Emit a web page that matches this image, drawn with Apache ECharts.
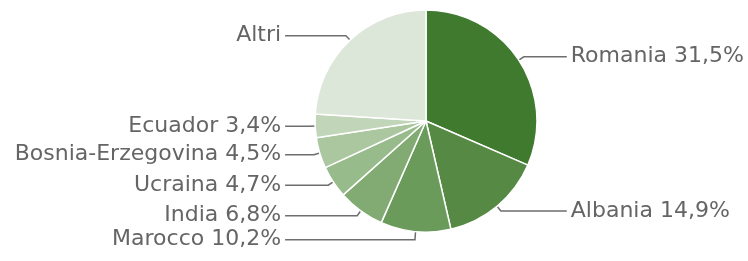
<!DOCTYPE html>
<html>
<head>
<meta charset="utf-8">
<script src="https://cdn.jsdelivr.net/npm/echarts@6/dist/echarts.min.js"></script>
<style>
  html, body { margin: 0; padding: 0; background: #fff; }
  #chart { width: 748px; height: 261px; }
</style>
</head>
<body>
<div id="chart"></div>
<script>
var names = ['Romania', 'Albania', 'Marocco', 'India', 'Ucraina', 'Bosnia-Erzegovina', 'Ecuador', 'Altri'];
var values = [31.5, 14.9, 10.2, 6.8, 4.7, 4.5, 3.4, 24.0];
var colors = ['#3f7a2f', '#568a44', '#6b9b5b', '#81ab72', '#97bb8a', '#abc7a0', '#c1d6b8', '#dce6d9'];
var showPct = [true, true, true, true, true, true, true, false];

var data = [];
for (var i = 0; i < names.length; i++) {
    var item = {
        name: names[i],
        value: values[i],
        pct: showPct[i],
        itemStyle: {color: colors[i]}
    };
    if (i === 0) {
        item.labelLine = {length2: 43};
    }
    data.push(item);
}

var myChart = echarts.init(document.getElementById('chart'));

var option = {
    animation: false,
    series: [
        {
            type: 'pie',
            center: [426, 121],
            radius: 111,
            startAngle: 90,
            clockwise: true,
            data: data,
            itemStyle: {
                borderColor: '#fff',
                borderWidth: 1.5
            },
            label: {
                show: true,
                alignTo: 'labelLine',
                distanceToLabelLine: 4,
                bleedMargin: 0,
                overflow: 'none',
                padding: [4, 0, 0, 0],
                color: '#656565',
                fontFamily: 'DejaVu Sans',
                fontSize: 22,
                formatter: function (p) {
                    if (!p.data.pct) {
                        return p.name;
                    }
                    return p.name + ' ' + p.value.toFixed(1).replace('.', ',') + '%';
                }
            },
            labelLine: {
                show: true,
                length: 6,
                length2: 24,
                lineStyle: {
                    color: '#6e6e6e',
                    width: 1.5
                }
            }
        }
    ]
};

myChart.setOption(option);
</script>
</body>
</html>
